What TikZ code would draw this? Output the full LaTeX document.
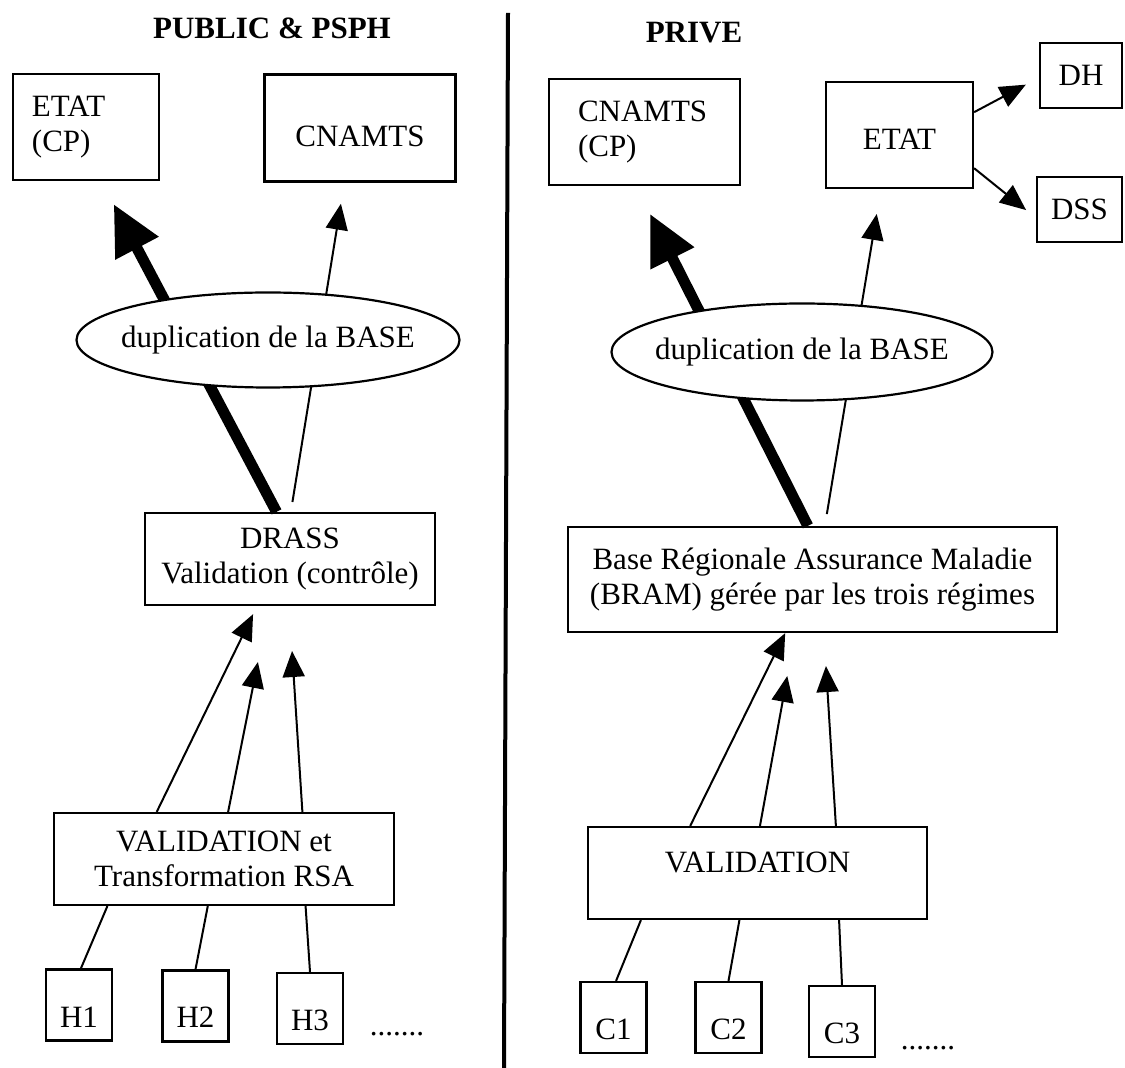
\documentclass[tikz,border=0pt]{standalone}
\usepackage{fontspec}
\setmainfont{Liberation Serif}
\usepackage{tikz}
\usetikzlibrary{arrows.meta, shapes.geometric}
\tikzset{
    x=0.5pt, y=-0.5pt, % One unit is one pixel of the scan, y goes down
    box/.style={ % Sets the properties for each rectangle
        draw,
        line width=1.1pt,
        inner sep=0pt,
        align=center,
        font=\fontsize{15.5}{17.5}\selectfont
    },
    smallbox/.style={ % Hospitals and clinics, text sits low in the box
        box,
        minimum width=33pt,
        minimum height=35.5pt,
        text height=22pt,
        text depth=0pt
    },
    dup/.style={ellipse, draw, fill=white, line width=1.1pt, inner sep=0pt},
    duptext/.style={font=\fontsize{15.5}{17.5}\selectfont},
    title/.style={font=\fontsize{15.5}{17.5}\selectfont\bfseries},
    flow/.style={-{Triangle[length=13pt,width=11pt]}, line width=1pt}, % thin arrows
    bigflow/.style={-{Triangle[length=25pt,width=23pt]}, line width=5.5pt}, % main data flow
    link/.style={line width=1pt},
}

\begin{document}
\begin{tikzpicture}
            \useasboundingbox (0,0) rectangle (1125,1068);

            % PUBLIC & PSPH
            \node[title]                                  (pubtitle) at (272,28)   {PUBLIC \& PSPH};
            \node[box, minimum width=73pt, minimum height=53pt,
                  text width=54pt, inner xsep=9.5pt, align=left]
                                                           (etatL)    at (86,127)   {ETAT\\(CP)};
            \node[box, minimum width=95.5pt, minimum height=53.5pt,
                  text height=19pt, text depth=0pt]
                                                           (cnamL)    at (360,128)  {CNAMTS};
            \node[box, minimum width=145pt, minimum height=46pt]
                                                           (drass)    at (290,559)  {DRASS\\Validation (contrôle)};
            \node[box, minimum width=170pt, minimum height=46pt]
                                                           (valL)     at (224,859)  {VALIDATION et\\Transformation RSA};
            \node[smallbox]                                (h1)       at (79,1005)  {H1};
            \node[smallbox]                                (h2)       at (195.5,1006) {H2};
            \node[smallbox]                                (h3)       at (310,1008.5) {H3};
            \node[duptext, anchor=base]                    (moreH)    at (397,1035) {.......};

            % PRIVE
            \node[title]                                  (privtitle) at (694,33)  {PRIVE};
            \node[box, minimum width=95.5pt, minimum height=53pt,
                  text width=66.5pt, inner xsep=14.5pt, align=left]
                                                           (cnamR)    at (644.5,132) {CNAMTS\\(CP)};
            \node[box, minimum width=73.5pt, minimum height=53pt,
                  text height=15pt, text depth=0pt]
                                                           (etatR)    at (899.5,135) {ETAT};
            \node[box, minimum width=41pt, minimum height=32.5pt]
                                                           (dh)       at (1081,75.5) {DH};
            \node[box, minimum width=42.5pt, minimum height=32.5pt]
                                                           (dss)      at (1079.5,209.5) {DSS};
            \node[box, minimum width=244.5pt, minimum height=52.5pt]
                                                           (bram)     at (812.5,579.5)
                  {Base Régionale Assurance Maladie\\(BRAM) gérée par les trois régimes};
            \node[box, minimum width=169.5pt, minimum height=46pt, text depth=11pt]
                                                           (valR)     at (757.5,873) {VALIDATION};
            \node[smallbox]                                (c1)       at (613.5,1017.5) {C1};
            \node[smallbox]                                (c2)       at (728.5,1017.5) {C2};
            \node[smallbox]                                (c3)       at (842,1021.5) {C3};
            \node[duptext, anchor=base]                    (moreC)    at (928,1049) {.......};

            % separation public / prive
            \draw[line width=2pt] (508,13) -- (504,1068);

            \draw   (drass.106)  edge[bigflow, shorten >=13pt]                  (etatL.-74)
                    (drass.89)   edge[flow, shorten <=5pt, shorten >=10.7pt]    (cnamL.-106)
                    (valL.145)   edge[flow, shorten >=4.5pt]                    (drass.-125)
                    (valL.85)    edge[flow, shorten >=28.5pt]                   (drass.-114.5)
                    (valL.31)    edge[flow, shorten >=22.5pt]                   (drass.-91)
                    (valL.-158)  edge[link]                                     (h1.87)
                    (valL.-109)  edge[link]                                     (h2.north)
                    (valL.-30)   edge[link]                                     (h3.north)
            ;
            \draw   (bram.95)    edge[bigflow, shorten >=15.5pt]                (cnamR.-99)
                    (bram.77)    edge[flow, shorten <=6pt, shorten >=12.6pt]    (etatR.-109)
                    (etatR.17)   edge[flow, shorten >=7.4pt]                    (dh.183.5)
                    (etatR.-24)  edge[flow, shorten >=6.3pt]                    (dss.191)
                    (valR.145)   edge[flow]                                     (bram.-117.6)
                    (valR.87)    edge[flow, shorten >=21.8pt]                   (bram.-108.4)
                    (valR.31)    edge[flow, shorten >=16.5pt]                   (bram.-78.3)
                    (valR.-158)  edge[link]                                     (c1.86)
                    (valR.-111)  edge[link]                                     (c2.north)
                    (valR.-30)   edge[link]                                     (c3.north)
            ;

            % ellipses last so that they hide the arrows behind them
            \node[dup, minimum width=191.5pt, minimum height=47.5pt,
                  label={[duptext]center:duplication de la BASE}]  (dupL) at (268,340) {};
            \node[dup, minimum width=190.5pt, minimum height=48.5pt,
                  label={[duptext]center:duplication de la BASE}]  (dupR) at (802,352) {};
\end{tikzpicture}
\end{document}
